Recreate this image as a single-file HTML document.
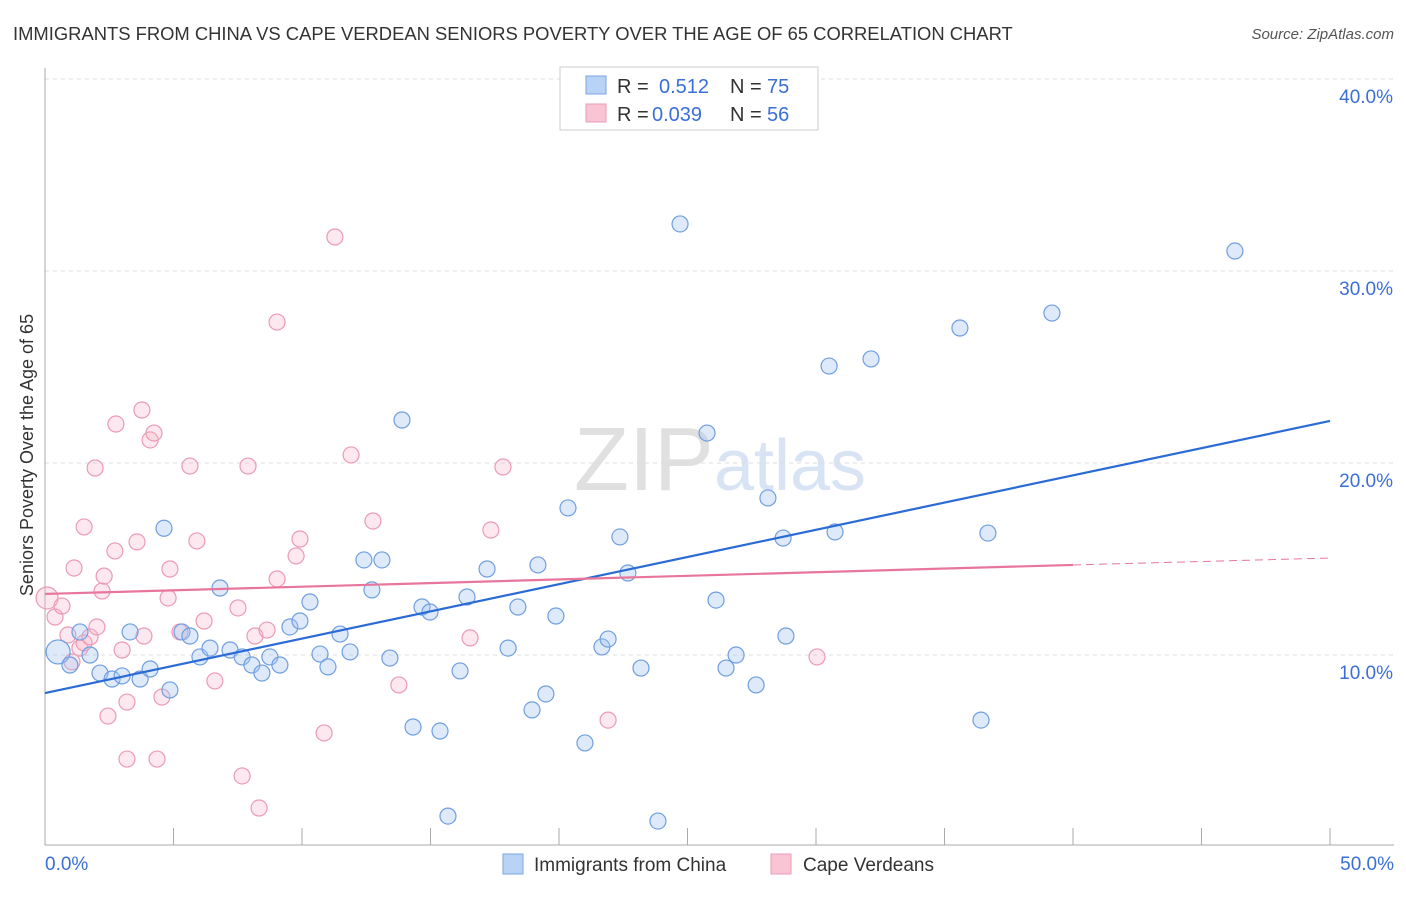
<!DOCTYPE html>
<html><head><meta charset="utf-8"><style>
body{margin:0;background:#fff;font-family:"Liberation Sans",sans-serif;}
svg text{font-family:"Liberation Sans",sans-serif;}
</style></head><body>
<svg id="c" width="1406" height="892" xmlns="http://www.w3.org/2000/svg">
<text x="13" y="40" font-size="18.4" fill="#333">IMMIGRANTS FROM CHINA VS CAPE VERDEAN SENIORS POVERTY OVER THE AGE OF 65 CORRELATION CHART</text>
<text x="1394" y="39" font-size="15" fill="#555" font-style="italic" text-anchor="end">Source: ZipAtlas.com</text>
<text x="33" y="455" font-size="18" fill="#333" text-anchor="middle" transform="rotate(-90 33 455)">Seniors Poverty Over the Age of 65</text>
<text x="720" y="490" font-size="90" fill="#e4e4e4" text-anchor="middle" font-family="Liberation Serif"><tspan fill="#e0e0e0">ZIP</tspan><tspan fill="#d8e4f4" font-family="Liberation Sans" font-size="72">atlas</tspan></text>
<g id="grid"></g><g id="axes"></g><g id="pts"></g><g id="lines"></g>
<g>
<rect x="560" y="67" width="258" height="63" fill="#fff" stroke="#ccc"/>
<rect x="586" y="76" width="20" height="18" fill="#b8d3f5" stroke="#7aa6e0"/>
<rect x="586" y="104" width="20" height="18" fill="#f9c5d5" stroke="#ec9ab4"/>
<text x="617" y="93" font-size="20" fill="#333">R =</text>
<text x="659" y="93" font-size="20" fill="#3a6fd8">0.512</text>
<text x="730" y="93" font-size="20" fill="#333">N =</text>
<text x="767" y="93" font-size="20" fill="#3a6fd8">75</text>
<text x="617" y="121" font-size="20" fill="#333">R =</text>
<text x="652" y="121" font-size="20" fill="#3a6fd8">0.039</text>
<text x="730" y="121" font-size="20" fill="#333">N =</text>
<text x="767" y="121" font-size="20" fill="#3a6fd8">56</text>
</g>
<g>
<rect x="503" y="854" width="20" height="20" fill="#b8d3f5" stroke="#7aa6e0"/>
<text x="534" y="871" font-size="19" fill="#333">Immigrants from China</text>
<rect x="771" y="854" width="20" height="20" fill="#f9c5d5" stroke="#ec9ab4"/>
<text x="803" y="871" font-size="19" fill="#333">Cape Verdeans</text>
</g>
</svg>
<script>
const blueX=[0.51,0.97,1.36,1.75,2.14,2.61,3.0,3.31,3.70,4.09,4.63,4.86,5.33,5.64,6.03,6.42,6.81,7.2,7.67,8.05,8.44,8.75,9.14,9.53,9.92,10.31,10.7,11.01,11.48,11.87,12.41,12.72,13.11,13.42,13.89,14.32,14.67,14.98,15.37,15.68,16.15,16.42,17.2,18.02,18.4,18.95,19.18,19.49,19.88,20.35,21.01,21.67,21.91,22.37,22.68,23.19,23.85,24.71,25.76,26.11,26.5,26.89,27.67,28.13,28.72,28.83,30.51,30.74,32.14,35.6,36.42,36.69,39.18,46.3];
const blueY=[10.16,9.48,11.2,10.0,9.06,8.75,8.91,11.2,8.75,9.27,16.6,8.18,11.2,10.99,9.9,10.36,13.49,10.26,9.9,9.48,9.06,9.9,9.48,11.46,11.77,12.76,10.05,9.38,11.09,10.16,14.95,13.39,14.95,9.84,22.24,6.25,12.5,12.24,6.04,1.61,9.17,13.02,14.48,10.36,12.5,7.14,14.69,7.97,12.03,17.66,5.42,10.42,10.83,16.15,14.27,9.32,1.35,32.45,21.56,12.86,9.32,10.0,8.44,18.18,16.09,10.99,25.05,16.41,25.42,27.03,6.61,16.35,27.81,31.04];
const pinkX=[0.08,0.39,0.66,0.89,1.05,1.36,1.52,1.75,2.02,1.95,1.52,1.13,2.22,2.30,2.45,2.72,2.76,3.0,3.19,3.19,3.58,3.77,3.85,4.09,4.24,4.36,4.55,4.79,4.86,5.25,5.64,5.91,6.19,6.61,7.51,7.67,7.9,8.17,8.33,8.64,9.03,9.03,9.77,9.92,10.86,11.28,11.91,12.76,13.77,16.54,17.35,17.82,21.91,30.04];
const pinkY=[12.97,11.98,12.55,11.04,9.64,10.36,10.63,10.94,11.46,19.74,16.67,14.53,13.33,14.11,6.82,15.42,22.03,10.26,7.55,4.58,15.89,22.76,10.99,21.2,21.56,4.58,7.81,12.97,14.48,11.2,19.84,15.94,11.77,8.65,12.45,3.7,19.84,10.99,2.03,11.3,27.34,13.96,15.16,16.04,5.94,31.77,20.42,16.98,8.44,10.89,16.51,19.79,6.61,9.9];
const blueTrend=[8.02,22.19];
const pinkTrend=[13.18,14.69,15.05];
const yTicks=[10,20,30,40];
const NS='http://www.w3.org/2000/svg';
const sx=v=>45+v*25.7, sy=v=>847-v*19.2;
function mk(tag,attrs,parent){const e=document.createElementNS(NS,tag);for(const k in attrs)e.setAttribute(k,attrs[k]);document.getElementById(parent).appendChild(e);return e;}
yTicks.forEach(t=>{
 const l=mk('line',{x1:45,x2:1394,y1:sy(t),y2:sy(t),stroke:'#ddd','stroke-dasharray':'4 4'},'grid');
 
 
 const tx=mk('text',{x:1393,y:sy(t)+24,'font-size':19,fill:'#3a6fd8','text-anchor':'end'},'grid');tx.textContent=t.toFixed(1)+'%';
 
 
});
let ax=mk('line',{x1:45,x2:45,y1:68,y2:845,stroke:'#aaa'},'axes');


ax=mk('line',{x1:45,x2:1394,y1:845,y2:845,stroke:'#aaa'},'axes');


for(let i=0;i<=10;i++){const t=mk('line',{x1:sx(i*5),x2:sx(i*5),y1:828,y2:845,stroke:'#aaa'},'axes');
 
 }
[[0,'0.0%','start',45],[50,'50.0%','end',1394]].forEach(a=>{const t=mk('text',{x:a[3],y:870,'font-size':19,fill:'#3a6fd8','text-anchor':a[2]},'axes');t.textContent=a[1];
 
 });
pinkX.forEach((x,i)=>{const c=mk('circle',{cx:sx(x),cy:sy(pinkY[i]),r:i==0?11:8,fill:'rgba(246,180,200,0.3)',stroke:'#ec9ab4','stroke-width':1.2},'pts');
 
 });
blueX.forEach((x,i)=>{const c=mk('circle',{cx:sx(x),cy:sy(blueY[i]),r:i==0?12:8,fill:'rgba(160,195,240,0.35)',stroke:'#6f9ee0','stroke-width':1.2},'pts');
 
 });
let l=mk('line',{x1:sx(0),y1:sy(blueTrend[0]),x2:sx(50),y2:sy(blueTrend[1]),stroke:'#2a6bd6','stroke-width':2.2},'lines');


l=mk('line',{x1:sx(0),y1:sy(pinkTrend[0]),x2:sx(40),y2:sy(pinkTrend[1]),stroke:'#e8759b','stroke-width':2.2},'lines');


l=mk('line',{x1:sx(40),y1:sy(pinkTrend[1]),x2:sx(50),y2:sy(pinkTrend[2]),stroke:'#e8759b','stroke-width':1,'stroke-dasharray':'8 5'},'lines');


</script>
</body></html>
